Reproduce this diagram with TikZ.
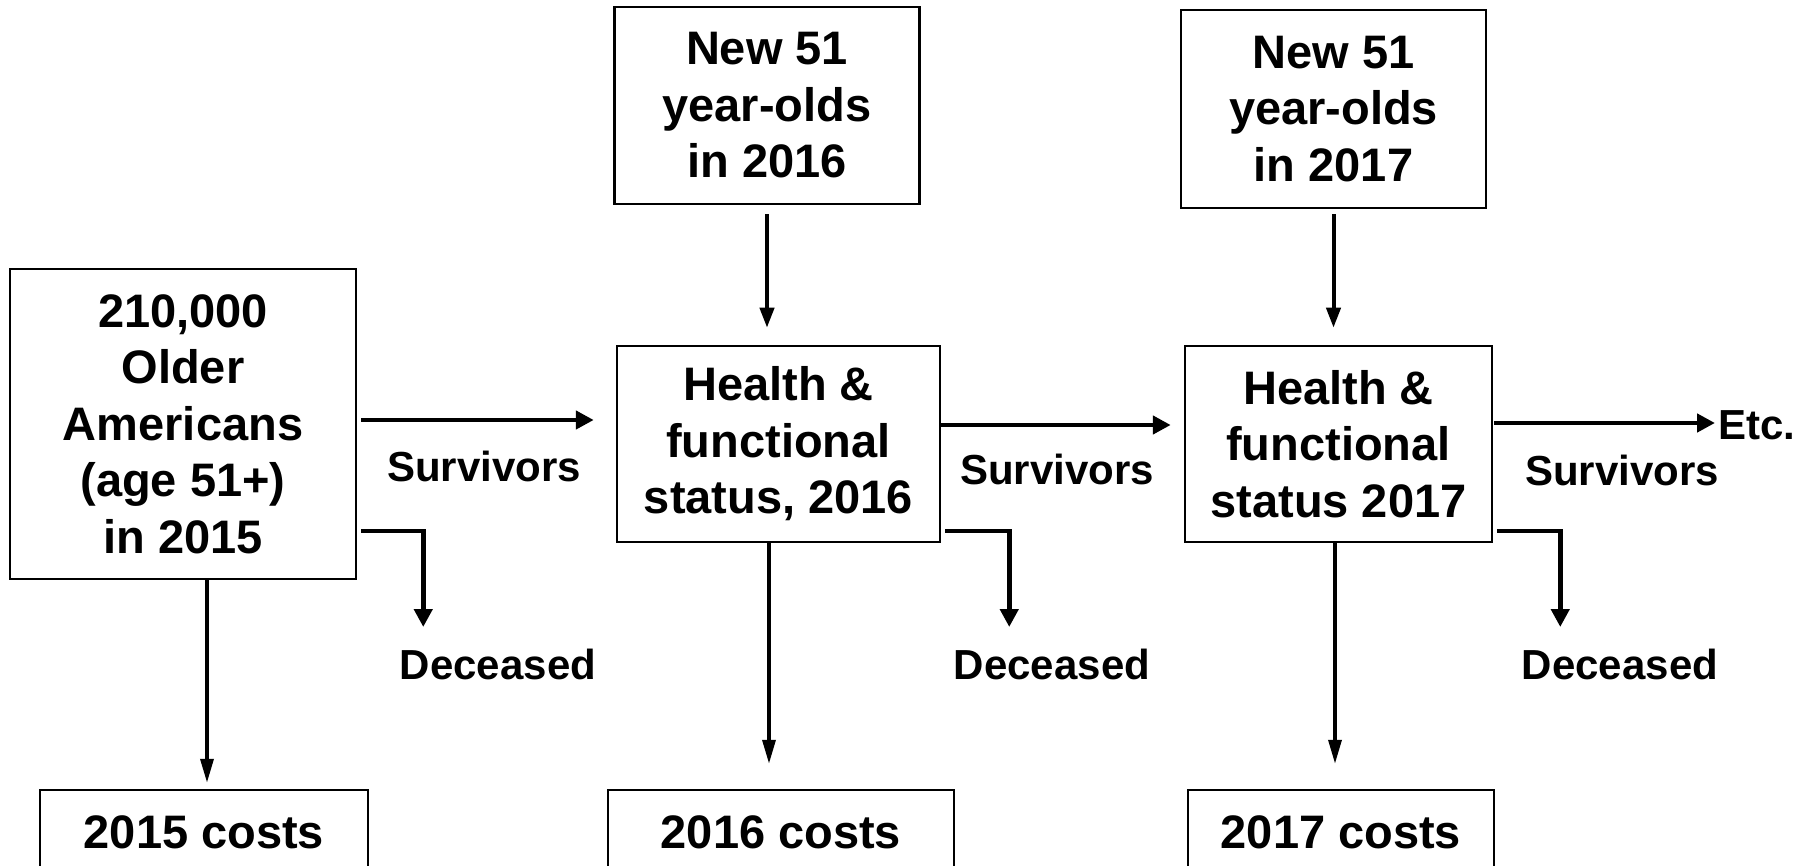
\documentclass[tikz,border=0pt]{standalone}
\usepackage{fontspec}
\setmainfont{Liberation Sans}
\usetikzlibrary{arrows.meta,calc}
\tikzset{
  box/.style={draw, line width=2.5pt, inner sep=0pt, align=center,
    font=\fontsize{47}{56.5}\selectfont\bfseries},
  lab/.style={inner sep=0pt, font=\fontsize{42}{50}\selectfont\bfseries},
  surv/.style={line width=4.5pt, -{Triangle[length=18pt,width=18pt]}},
  dec/.style={line width=4.5pt, -{Triangle[length=18pt,width=18pt]}},
  vert/.style={line width=4pt, -{Triangle[length=20pt,width=14pt]}},
  down/.style={line width=3.5pt, -{Triangle[length=24pt,width=13pt]}},
}
\begin{document}
\begin{tikzpicture}[x=1pt,y=-1pt]
\useasboundingbox (0,0) rectangle (1808,866);
\clip (0,0) rectangle (1808,866);
% main boxes
\node[box, minimum width=346pt, minimum height=310pt] (b1) at (183,424)
  {210,000\\Older\\Americans\\(age 51+)\\in 2015};
\node[box, minimum width=305pt, minimum height=197pt] (n1) at (767,105.5)
  {New 51\\year-olds\\in 2016};
\node[box, minimum width=323pt, minimum height=196pt] (h1) at (778.5,444)
  {Health \&\\functional\\status, 2016};
\node[box, minimum width=305pt, minimum height=198pt] (n2) at (1333.5,109)
  {New 51\\year-olds\\in 2017};
\node[box, minimum width=307pt, minimum height=196pt] (h2) at (1338.5,444)
  {Health \&\\functional\\status 2017};
% cost boxes (run off the bottom edge)
\node[box, minimum width=328pt, minimum height=84pt] (c1) at (204,832) {2015 costs};
\node[box, minimum width=346pt, minimum height=84pt] (c2) at (781,832) {2016 costs};
\node[box, minimum width=306pt, minimum height=84pt] (c3) at (1341,832) {2017 costs};
% labels
\node[lab] (s1) at (484,466) {Survivors};
\node[lab] (s2) at (1057,469) {Survivors};
\node[lab] (s3) at (1622,470) {Survivors};
\node[lab] (d1) at (498,664) {Deceased};
\node[lab] (d2) at (1052,664) {Deceased};
\node[lab] (d3) at (1620,664) {Deceased};
\node[lab, anchor=west] (etc) at (1718,425) {Etc.};
% survivors arrows
\draw[surv, shorten <=4pt, shorten >=22pt] ([yshift=4pt]b1.east) -- ([yshift=4pt]b1.east -| h1.west);
\draw[surv, shorten >=13pt] ([yshift=19pt]h1.east) -- ([yshift=19pt]h1.east -| h2.west);
\draw[surv, shorten <=1pt, shorten >=3pt] ([yshift=21pt]h2.east) -- ([yshift=21pt]h2.east -| etc.west);
% deceased elbows
\draw[dec, shorten <=4pt] ([yshift=-107pt]b1.east) -- ++(66,0) -- ++(0,96);
\draw[dec, shorten <=4pt] ([yshift=-87pt]h1.east) -- ++(68,0) -- ++(0,96);
\draw[dec, shorten <=4pt] ([yshift=-87pt]h2.east) -- ++(67,0) -- ++(0,96);
% new 51 year-olds arrows
\draw[vert, shorten <=9pt, shorten >=17pt] (n1.south) -- (n1.south |- h1.north);
\draw[vert, shorten <=5pt, shorten >=17pt] (n2.south) -- (n2.south |- h2.north);
% cost arrows
\draw[down, shorten >=6pt] ([xshift=24pt]b1.south) -- ([xshift=24pt]b1.south |- c1.north);
\draw[down, shorten >=25pt] ([xshift=-9.5pt]h1.south) -- ([xshift=-9.5pt]h1.south |- c2.north);
\draw[down, shorten >=25pt] ([xshift=-3.5pt]h2.south) -- ([xshift=-3.5pt]h2.south |- c3.north);
\end{tikzpicture}
\end{document}
